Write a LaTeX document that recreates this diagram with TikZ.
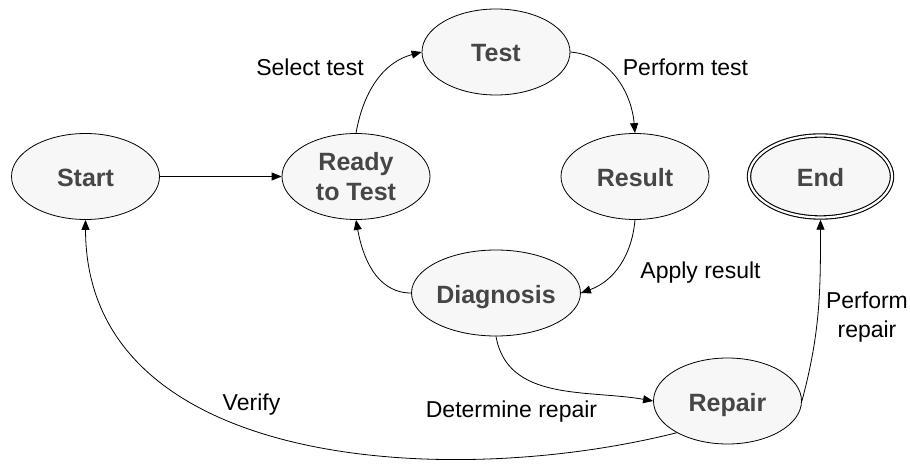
\documentclass[tikz,border=0pt]{standalone}
\usepackage{fontspec}
\setmainfont{Liberation Sans}
\usetikzlibrary{shapes.geometric,arrows.meta}
\definecolor{statefill}{HTML}{F7F7F7}
\definecolor{statetext}{HTML}{464646}
\begin{document}
\begin{tikzpicture}[x=1pt,y=-1pt,
  state/.style={ellipse, draw=black, line width=0.8pt, fill=statefill,
    text=statetext, font=\fontsize{25}{30}\selectfont\bfseries,
    minimum width=148pt, minimum height=86pt, inner sep=0pt, align=center},
  oneline/.style={text height=20pt, text depth=0pt},
  final/.style={line width=1.1pt, double, double distance=2.2pt,
    minimum width=143pt, minimum height=82pt, outer sep=2.2pt},
  arr/.style={draw, line width=0.8pt, -{Triangle[length=10pt,width=8pt]}},
  lbl/.style={font=\fontsize{23}{29}\selectfont, inner sep=0pt, anchor=base, align=center}]
\useasboundingbox (0,0) rectangle (910,465);

% states
\node[state, oneline] (start)  at (85.5,176.5) {Start};
\node[state]          (ready)  at (356,176.5)  {Ready\\to Test};
\node[state, oneline] (test)   at (496,52)     {Test};
\node[state, oneline] (result) at (635,176.5)  {Result};
\node[state, oneline, final] (endst) at (820.5,176.5) {End};
\node[state, oneline] (diag)   at (496,293)    {Diagnosis};
\node[state, oneline] (repair) at (727.5,401)  {Repair};

% transitions
\draw[arr] (start) -- (ready);
\draw[arr] (ready.north) to[out=80, in=195] (test.west);
\draw[arr] (test.east) to[out=-5, in=95] (result.north);
\draw[arr] (result.south) to[out=-95, in=20] (diag.east);
\draw[arr] (diag.west) to[out=180, in=-80] (ready.south);
\draw[arr] (diag.south) to[out=-80, in=170] (repair.west);
\draw[arr] (repair.east) to[out=75, in=-90] (endst.south);
\draw[arr] (repair.212) .. controls (450,490) and (86,470) .. (start.south);

% transition labels (base = baseline of the last line)
\node[lbl] (lselect)  at (310,76)    {Select test};
\node[lbl] (lperform) at (685.5,76)  {Perform test};
\node[lbl] (lapply)   at (700.5,278) {Apply result};
\node[lbl] (ldeterm)  at (511.5,417) {Determine repair};
\node[lbl] (lrepair)  at (867,337)   {Perform\\repair};
\node[lbl] (lverify)  at (251.5,410) {Verify};
\end{tikzpicture}
\end{document}
